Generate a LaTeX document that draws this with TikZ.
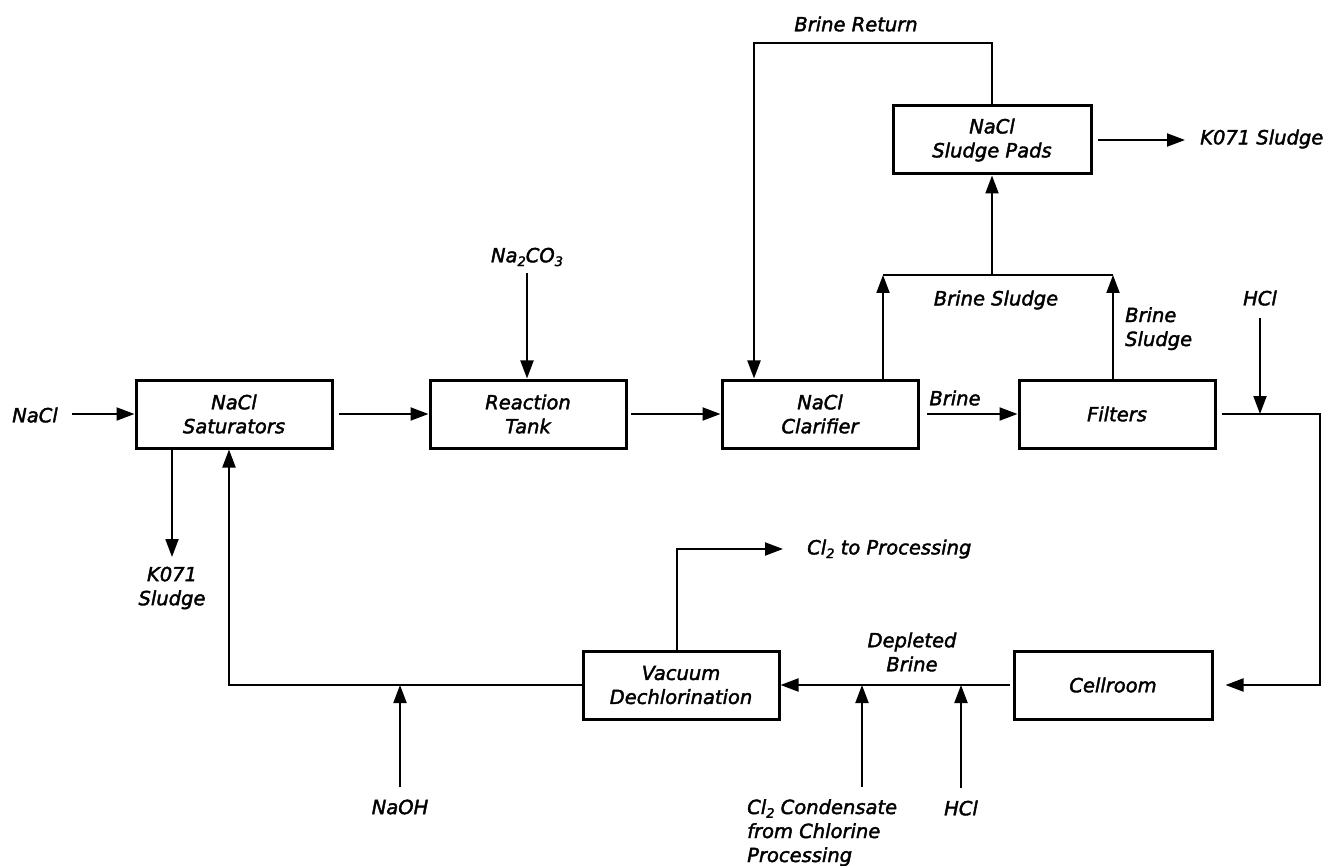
\documentclass[tikz,border=0pt]{standalone}
\usepackage{fontspec}
\setmainfont{DejaVu Sans}
\newfontfamily\lblfont[FakeBold=2]{DejaVu Sans}
\usetikzlibrary{arrows.meta}
\newcommand{\sbx}[1]{\raisebox{-0.35ex}{\fontsize{13}{13}\selectfont #1}}
\tikzset{
  txt/.style={font=\lblfont\fontsize{19.5}{24}\selectfont\itshape, inner sep=0pt},
  procbox/.style={draw, line width=3pt, minimum width=196pt, minimum height=68pt, align=center, txt},
  lbl/.style={txt, align=center},
  arr/.style={line width=2pt, -{Triangle[length=18pt,width=13pt]}},
  ln/.style={line width=2pt}
}
\begin{document}
\begin{tikzpicture}[x=1pt,y=-1pt]
\useasboundingbox (0,0) rectangle (1330,866);
% boxes
\node[procbox] (sat)  at (234,414)  {NaCl\\Saturators};
\node[procbox] (reac) at (528,414)  {Reaction\\Tank};
\node[procbox] (clar) at (820,414)  {NaCl\\Clarifier};
\node[procbox] (filt) at (1117,414) {Filters};
\node[procbox, minimum width=198pt] (pads) at (992,140) {NaCl\\Sludge Pads};
\node[procbox] (vac)  at (681,685)  {Vacuum\\Dechlorination};
\node[procbox, minimum width=198pt] (cell) at (1113,685) {Cellroom};
% labels
\node[lbl] (nacl) at (35,415) {NaCl};
\node[lbl] (na2co3) at (527,257) {Na\sbx{2}CO\sbx{3}};
\node[lbl] (k071a) at (172,588) {K071\\Sludge};
\node[lbl] (brret) at (856,24) {Brine Return};
\node[lbl, anchor=west] (k071b) at (1200,139) {K071 Sludge};
\node[lbl] (bsmid) at (996,300) {Brine Sludge};
\node[lbl, align=left, anchor=north west] (bsright) at (1125,307) {Brine\\Sludge};
\node[lbl] (hcltop) at (1260,298) {HCl};
\node[lbl] (brine) at (955,398) {Brine};
\node[lbl, anchor=west] (cl2proc) at (807,549) {Cl\sbx{2} to Processing};
\node[lbl] (depl) at (912,652) {Depleted\\Brine};
\node[lbl] (naoh) at (400,807) {NaOH};
\node[lbl, align=left, anchor=north west] (cond) at (747,799) {Cl\sbx{2} Condensate\\from Chlorine\\Processing};
\node[lbl] (hclbot) at (961,808) {HCl};
% coordinates
\coordinate (ksT) at (172,557);
\coordinate (bs1) at (883,275);
\coordinate (bs2) at (1113,275);
\coordinate (bs3) at (992,275);
\coordinate (brA) at (992,43);
\coordinate (brB) at (754,43);
\coordinate (fr) at (1320,414);
\coordinate (fd) at (1320,685);
\coordinate (hclj) at (1260,414);
\coordinate (cu) at (677,549);
\coordinate (condS) at (862,787);
\coordinate (vl) at (229,685);
% connectors
\draw[arr, shorten <=14pt] (nacl.east |- sat.west) -- (sat.west);
\draw[arr, shorten <=5pt] (sat.east) -- (reac.west);
\draw[arr, shorten <=3pt] (reac.east) -- (clar.west);
\draw[arr, shorten <=7pt] (clar.east) -- (filt.west);
\draw[arr, shorten <=16pt] (na2co3.south |- 0,257) -- (na2co3.south |- reac.north);
\draw[arr] (ksT |- sat.south) -- (ksT);
\draw[arr] (bs1 |- clar.north) -- (bs1);
\draw[arr] (bs2 |- filt.north) -- (bs2);
\draw[ln] (bs1) -- (bs2);
\draw[arr] (bs3) -- (pads.south);
\draw[arr] (pads.north) -- (brA) -- (brB) -- (brB |- clar.north);
\draw[arr, shorten <=5pt, shorten >=15pt] (pads.east) -- (k071b.west |- pads.east);
\draw[arr, shorten <=5pt, shorten >=12pt] (filt.east) -- (fr) -- (fd) -- (cell.east);
\draw[arr, shorten <=12pt] (hcltop) -- (hclj);
\draw[arr, shorten <=3pt] (cell.west) -- (vac.east);
\draw[arr] (condS) -- (condS |- vac.east);
\draw[arr, shorten <=12pt] (hclbot) -- (hclbot |- cell.west);
\draw[arr] (vac.west) -- (vl) -- (vl |- sat.south);
\draw[arr, shorten <=12pt] (naoh) -- (naoh |- vac.west);
\draw[arr, shorten >=24pt] (cu |- vac.north) -- (cu) -- (cl2proc.west);
\end{tikzpicture}
\end{document}
